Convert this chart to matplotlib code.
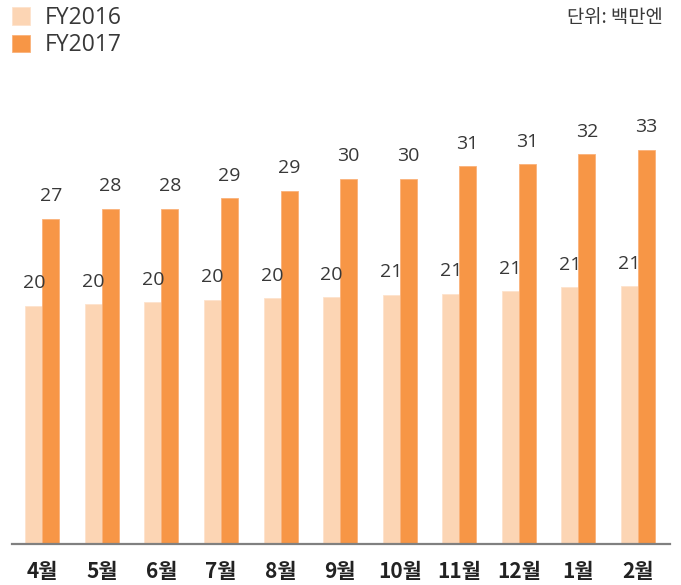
import numpy as np
import matplotlib.pyplot as plt

plt.rcParams['font.family'] = ['Open Sans', 'Noto Sans CJK KR', 'DejaVu Sans']

# monthly values (million yen)
months = ['4월', '5월', '6월', '7월', '8월', '9월', '10월', '11월', '12월', '1월', '2월']
fy2016 = [19.7, 19.8, 20.0, 20.2, 20.3, 20.4, 20.6, 20.7, 20.9, 21.2, 21.3]
fy2017 = [26.9, 27.7, 27.7, 28.6, 29.2, 30.2, 30.2, 31.2, 31.4, 32.2, 32.6]
series_names = ['FY2016', 'FY2017']
unit_text = '단위: 백만엔'

c16 = '#fcd5b4'
c17 = '#f79646'
txt = '#383838'

fig = plt.figure(figsize=(6.81, 5.85), dpi=100)
# axes placed in pixel terms: left 12, right 670, baseline at y=544, top y=60
ax = fig.add_axes([12 / 681, 41 / 585, 658 / 681, 484 / 585])

x = np.arange(len(months))
w = 0.285
b1 = ax.bar(x - w / 2, fy2016, w, color=c16, edgecolor='#fde3cc', linewidth=0.6, label=series_names[0])
b2 = ax.bar(x + w / 2, fy2017, w, color=c17, edgecolor='#fab27a', linewidth=0.6, label=series_names[1])

for bars, vals in [(b1, fy2016), (b2, fy2017)]:
    for r, v in zip(bars, vals):
        ax.annotate(f'{v:.0f}', (r.get_x() + r.get_width() / 2, v),
                    xytext=(0, 12.5), textcoords='offset points',
                    ha='center', va='baseline', fontsize=14, color=txt)

ax.set_xlim(-0.51, 10.54)
ax.set_ylim(0, 40)
ax.set_xticks(x)
ax.set_xticklabels(months, fontsize=15, fontweight='bold', color='#222222',
                   family=['Noto Sans CJK KR'])
ax.tick_params(axis='x', length=0, pad=12)
ax.set_yticks([])
for s in ['top', 'right', 'left']:
    ax.spines[s].set_visible(False)
ax.spines['bottom'].set_color('#808080')
ax.spines['bottom'].set_linewidth(1.6)

fig.legend(handles=[b1, b2], loc='upper left', bbox_to_anchor=(12 / 681, 1 - 6 / 585),
           frameon=False, fontsize=16.5, handlelength=0.8, handleheight=0.8,
           handletextpad=0.65, labelspacing=0.15, labelcolor=txt,
           borderpad=0, borderaxespad=0)

fig.text(663 / 681, 1 - 17 / 585, unit_text, ha='right', va='center', fontsize=13.5,
         color=txt, family=['Noto Sans CJK KR'])

fig.savefig('out.png', dpi=100)
